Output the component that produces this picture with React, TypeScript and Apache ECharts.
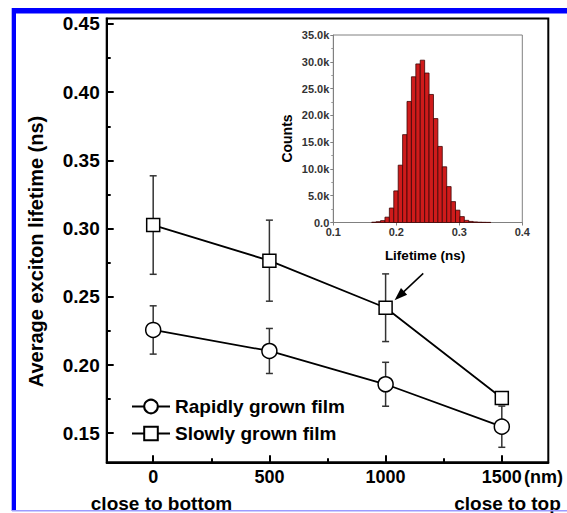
import React, { useEffect, useRef } from "react";
import * as echarts from "echarts";

// ---- data ----
const thicknessNm = [0, 500, 1000, 1500];
const rapidMean = [0.2257, 0.2103, 0.1859, 0.1548];
const rapidErr = [0.0177, 0.0165, 0.0161, 0.0151];
const slowMean = [0.3026, 0.2765, 0.242, 0.1758];
const slowErr = [0.0361, 0.0297, 0.0248, 0.004];

const yMajorTicks = [0.15, 0.2, 0.25, 0.3, 0.35, 0.4, 0.45];
const yMinorTicks = [0.175, 0.225, 0.275, 0.325, 0.375, 0.425];
const xMajorTicks = [0, 500, 1000, 1500];
const xMinorTicks = [250, 750, 1250];

const histBinWidth = 0.007;
const histBinStart = [
  0.161, 0.168, 0.175, 0.182, 0.189, 0.196, 0.203, 0.21, 0.217, 0.224, 0.231,
  0.238, 0.245, 0.252, 0.259, 0.266, 0.273, 0.28, 0.287, 0.294, 0.301, 0.308,
  0.315, 0.322, 0.329, 0.336, 0.343,
];
const histCounts = [
  60, 150, 350, 1000, 2700, 5900, 10700, 16400, 22600, 27200, 29600, 30300,
  27900, 23900, 19400, 14200, 10400, 6700, 3900, 2300, 1100, 400, 200, 110, 60,
  40, 25,
];

const FONT = '"Liberation Sans", Arial, Helvetica, sans-serif';

export default function App() {
  const ref = useRef<HTMLDivElement>(null);

  useEffect(() => {
    if (!ref.current) return;
    const chart = echarts.init(ref.current, undefined, { renderer: "svg" });

    const errData = (means: number[], errs: number[]) =>
      thicknessNm.map((x, i) => [x, means[i] - errs[i], means[i] + errs[i]]);

    const errorRender = (params: any, api: any) => {
      const x = api.value(0);
      const lo = api.value(1);
      const hi = api.value(2);
      const top = api.coord([x, hi]);
      const bot = api.coord([x, lo]);
      const w = 3.5;
      const st = { stroke: "#333", lineWidth: 1.5 };
      return {
        type: "group",
        children: [
          { type: "line", shape: { x1: top[0], y1: top[1], x2: bot[0], y2: bot[1] }, style: st },
          { type: "line", shape: { x1: top[0] - w, y1: top[1], x2: top[0] + w, y2: top[1] }, style: st },
          { type: "line", shape: { x1: bot[0] - w, y1: bot[1], x2: bot[0] + w, y2: bot[1] }, style: st },
        ],
      };
    };

    const histRender = (params: any, api: any) => {
      const x0 = api.value(0);
      const x1 = api.value(1);
      const c = api.value(2);
      const p0 = api.coord([x0, c]);
      const p1 = api.coord([x1, 0]);
      return {
        type: "rect",
        shape: { x: p0[0], y: p0[1], width: p1[0] - p0[0], height: p1[1] - p0[1] },
        style: { fill: "#cf1b1b", stroke: "#3d0606", lineWidth: 0.8 },
      };
    };

    const txt = (
      text: string,
      x: number,
      y: number,
      size: number,
      align: string,
      extra: any = {}
    ) => ({
      type: "text",
      x,
      y,
      z: 100,
      ...extra,
      style: {
        text,
        fontSize: size,
        fontWeight: "bold",
        fontFamily: FONT,
        fill: extra.fill || "#000",
        align,
        textAlign: align,
        verticalAlign: "middle",
        textVerticalAlign: "middle",
      },
    });

    const mainLabel = { fontSize: 18, fontWeight: "bold", color: "#000", fontFamily: FONT };
    const insetLabel = { fontSize: 11, fontWeight: "bold", color: "#333", fontFamily: FONT };

    const option: any = {
      animation: false,
      textStyle: { fontFamily: FONT },
      grid: [
        {
          left: 106.7,
          top: 18.5,
          width: 441.6,
          height: 443.8,
          show: true,
          borderColor: "#000",
          borderWidth: 2,
          outerBoundsMode: "none",
        },
        {
          left: 333.3,
          top: 35,
          width: 189,
          height: 187.5,
          show: true,
          borderColor: "#808080",
          borderWidth: 1,
          outerBoundsMode: "none",
        },
      ],
      xAxis: [
        {
          type: "value",
          gridIndex: 0,
          min: -200,
          max: 1700,
          position: "bottom",
          axisLine: { show: true, onZero: false, lineStyle: { color: "#000", width: 2 } },
          axisTick: {
            show: true,
            inside: true,
            length: 7,
            customValues: xMajorTicks,
            lineStyle: { color: "#000", width: 2 },
          },
          axisLabel: {
            show: true,
            customValues: xMajorTicks,
            margin: 6,
            formatter: (v: number) => String(v),
            ...mainLabel,
          },
          splitLine: { show: false },
        },
        {
          type: "value",
          gridIndex: 0,
          min: -200,
          max: 1700,
          position: "bottom",
          axisLine: { show: false, onZero: false },
          axisTick: {
            show: true,
            inside: true,
            length: 4,
            customValues: xMinorTicks,
            lineStyle: { color: "#000", width: 2 },
          },
          axisLabel: { show: false },
          splitLine: { show: false },
        },
        {
          type: "value",
          gridIndex: 1,
          min: 0.1,
          max: 0.4,
          interval: 0.1,
          position: "bottom",
          axisLine: { show: true, onZero: false, lineStyle: { color: "#808080", width: 1 } },
          axisTick: { show: true, inside: false, length: 3, lineStyle: { color: "#808080" } },
          axisLabel: { show: true, margin: 4, formatter: (v: number) => v.toFixed(1), ...insetLabel },
          splitLine: { show: false },
        },
      ],
      yAxis: [
        {
          type: "value",
          gridIndex: 0,
          min: 0.1287,
          max: 0.454,
          position: "left",
          axisLine: { show: true, onZero: false, lineStyle: { color: "#000", width: 2 } },
          axisTick: {
            show: true,
            inside: true,
            length: 7,
            customValues: yMajorTicks,
            lineStyle: { color: "#000", width: 2 },
          },
          axisLabel: {
            show: true,
            customValues: yMajorTicks,
            margin: 7,
            formatter: (v: number) => v.toFixed(2),
            ...mainLabel,
            fontSize: 19,
          },
          splitLine: { show: false },
        },
        {
          type: "value",
          gridIndex: 0,
          min: 0.1287,
          max: 0.454,
          position: "left",
          axisLine: { show: false, onZero: false },
          axisTick: {
            show: true,
            inside: true,
            length: 4,
            customValues: yMinorTicks,
            lineStyle: { color: "#000", width: 2 },
          },
          axisLabel: { show: false },
          splitLine: { show: false },
        },
        {
          type: "value",
          gridIndex: 1,
          min: 0,
          max: 35000,
          interval: 5000,
          position: "left",
          axisLine: { show: true, onZero: false, lineStyle: { color: "#808080", width: 1 } },
          axisTick: { show: true, inside: false, length: 3, lineStyle: { color: "#808080" } },
          minorTick: { show: true, splitNumber: 2, length: 2, lineStyle: { color: "#999" } },
          axisLabel: {
            show: true,
            margin: 4,
            formatter: (v: number) => (v === 0 ? "0.0" : (v / 1000).toFixed(1) + "k"),
            ...insetLabel,
          },
          splitLine: { show: false },
        },
      ],
      legend: {
        show: true,
        orient: "vertical",
        left: 131,
        top: 397,
        padding: 0,
        itemGap: 8,
        itemWidth: 38,
        itemHeight: 17,
        selectedMode: false,
        data: ["Rapidly grown film", "Slowly grown film"],
        textStyle: { fontSize: 19, fontWeight: "bold", color: "#000", fontFamily: FONT },
      },
      series: [
        {
          type: "custom",
          name: "rapidErr",
          xAxisIndex: 0,
          yAxisIndex: 0,
          z: 1,
          renderItem: errorRender,
          encode: { x: 0, y: [1, 2] },
          data: errData(rapidMean, rapidErr),
        },
        {
          type: "custom",
          name: "slowErr",
          xAxisIndex: 0,
          yAxisIndex: 0,
          z: 1,
          renderItem: errorRender,
          encode: { x: 0, y: [1, 2] },
          data: errData(slowMean, slowErr),
        },
        {
          type: "line",
          name: "Rapidly grown film",
          xAxisIndex: 0,
          yAxisIndex: 0,
          z: 3,
          symbol: "circle",
          symbolSize: 15,
          showAllSymbol: true,
          lineStyle: { color: "#000", width: 1.8 },
          itemStyle: { color: "#fff", borderColor: "#000", borderWidth: 1.5 },
          data: thicknessNm.map((x, i) => [x, rapidMean[i]]),
        },
        {
          type: "line",
          name: "Slowly grown film",
          xAxisIndex: 0,
          yAxisIndex: 0,
          z: 3,
          symbol: "rect",
          symbolSize: 13,
          showAllSymbol: true,
          lineStyle: { color: "#000", width: 1.8 },
          itemStyle: { color: "#fff", borderColor: "#000", borderWidth: 1.5 },
          data: thicknessNm.map((x, i) => [x, slowMean[i]]),
          markLine: {
            silent: true,
            symbol: ["none", "triangle"],
            symbolSize: [9, 13],
            label: { show: false },
            lineStyle: { color: "#000", width: 1.5, type: "solid" },
            itemStyle: { color: "#000" },
            data: [[{ coord: [1162, 0.2672] }, { coord: [1059, 0.2507] }]],
          },
        },
        {
          type: "custom",
          name: "hist",
          xAxisIndex: 2,
          yAxisIndex: 2,
          renderItem: histRender,
          encode: { x: [0, 1], y: 2 },
          data: histBinStart.map((s, i) => [s, s + histBinWidth, histCounts[i]]),
        },
      ],
      graphic: [
        // frame bands
        { type: "rect", z: 90, shape: { x: 12, y: 8, width: 555, height: 5.5 }, style: { fill: "#0000ff" } },
        { type: "rect", z: 90, shape: { x: 11.7, y: 8, width: 4.3, height: 503 }, style: { fill: "#0000ff" } },
        { type: "rect", z: 110, shape: { x: 12, y: 510, width: 555, height: 1.5 }, style: { fill: "#9c9cff" } },
        txt("Average exciton lifetime (ns)", 35.5, 251.5, 20, "center", { rotation: Math.PI / 2 }),
        txt("(nm)", 524, 477, 18, "left"),
        txt("close to bottom", 161.5, 503, 19, "center"),
        txt("close to top", 507.5, 503, 19, "center"),
        txt("Counts", 287, 138.5, 14, "center", { rotation: Math.PI / 2 }),
        txt("Lifetime (ns)", 425, 255, 13.5, "center"),
      ],
    };

    chart.setOption(option);
    return () => chart.dispose();
  }, []);

  return (
    <div
      ref={ref}
      style={{ position: "absolute", left: 0, top: 0, width: 567, height: 513, background: "#fff" }}
    />
  );
}
